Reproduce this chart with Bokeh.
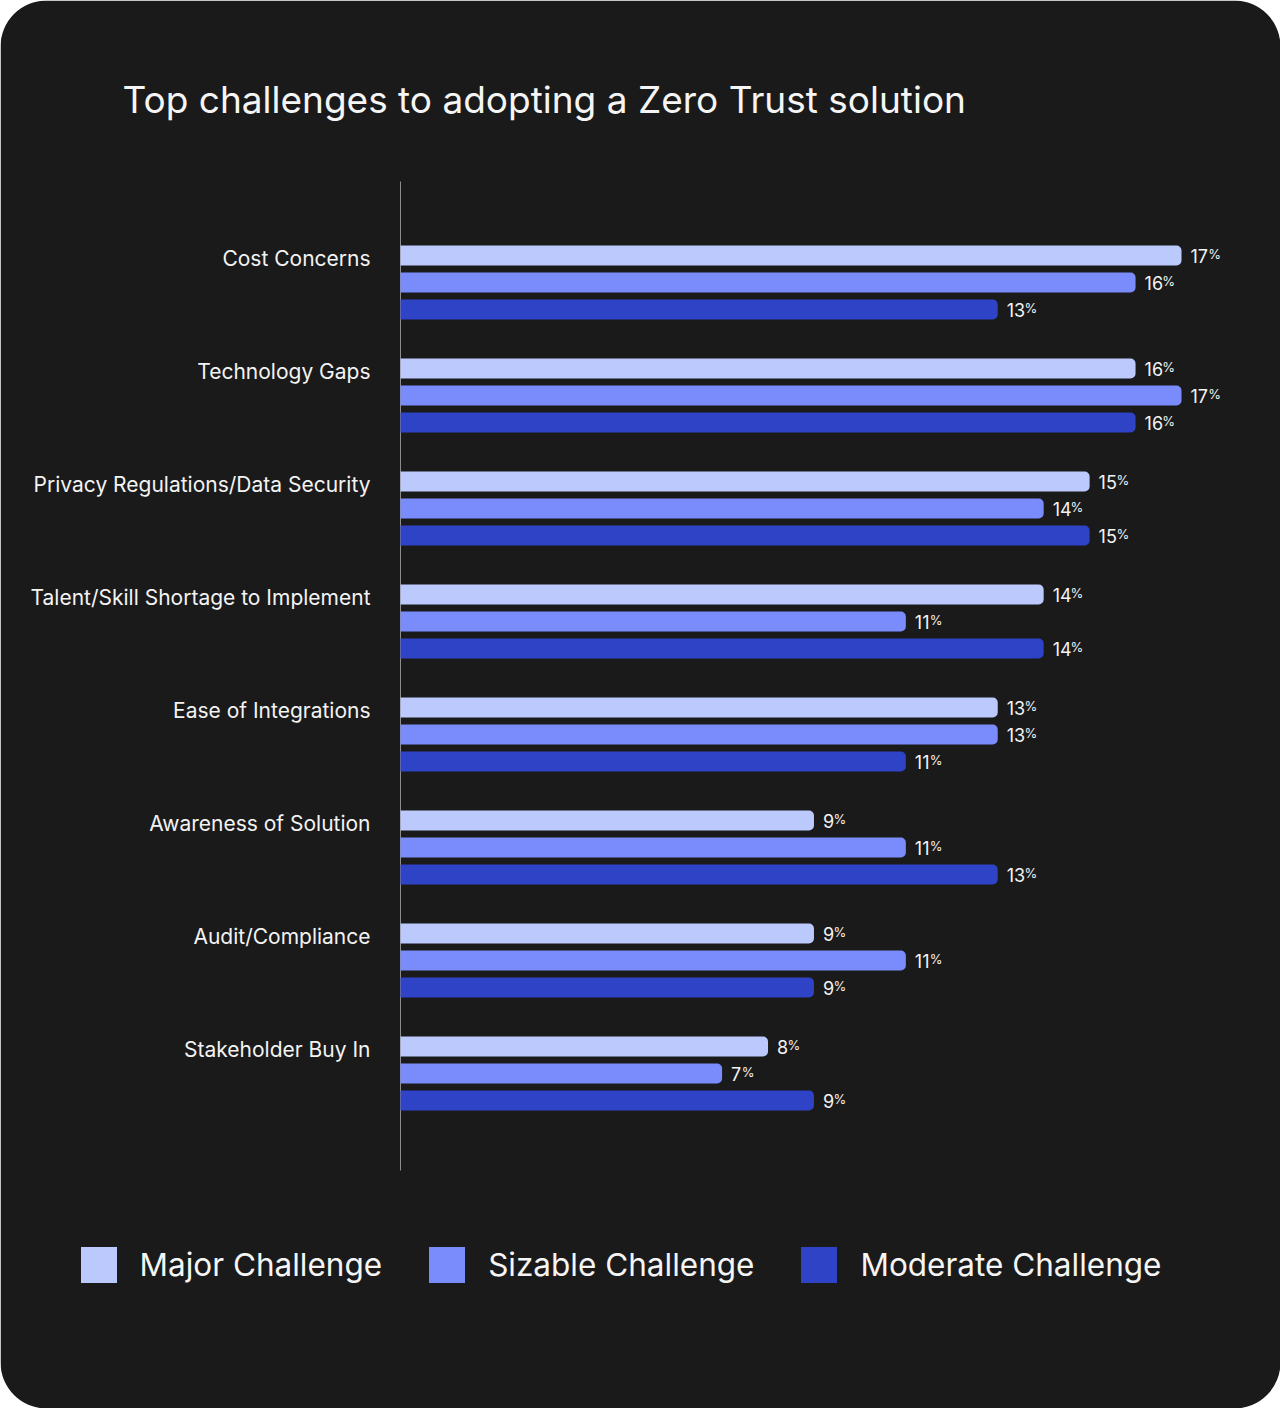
from bokeh.plotting import figure
from bokeh.models import ColumnDataSource, Range1d, Label, Legend, LegendItem
from bokeh.embed import file_html
from bokeh.resources import INLINE
from bokeh.core.properties import value

# ---- data ----
categories = ["Cost Concerns", "Technology Gaps", "Privacy Regulations/Data Security",
              "Talent/Skill Shortage to Implement", "Ease of Integrations",
              "Awareness of Solution", "Audit/Compliance", "Stakeholder Buy In"]
series_names = ["Major Challenge", "Sizable Challenge", "Moderate Challenge"]
major = [17, 16, 15, 14, 13, 9, 9, 8]
sizable = [16, 17, 14, 11, 13, 11, 11, 7]
moderate = [13, 16, 15, 14, 11, 13, 9, 9]
title_text = "Top challenges to adopting a Zero Trust solution"

# ---- style / layout ----
colors = ["#bbc9fd", "#7a8cfb", "#2e43c5"]
BG = "#1a1a1a"
TXT = "#f3f3f3"
FONT = "Inter"
W, H = 1280, 1408
X0_PX = 400          # pixel of value 0
XS = 781 / 17.0      # px per percent
Y_PX = 255           # pixel (from top) of first category's first bar
UNIT = 113.0         # px per category
offsets_px = [0, -27, -54]
bar_h_px = 20

n = len(categories)
pos = [n - 1 - i for i in range(n)]

x_start = -X0_PX / XS
x_end = (W - X0_PX) / XS
y_end = (n - 1) + Y_PX / UNIT
y_start = (n - 1) - (H - Y_PX) / UNIT

p = figure(width=W, height=H, output_backend="svg", toolbar_location=None,
           x_range=Range1d(x_start, x_end), y_range=Range1d(y_start, y_end),
           min_border=0, min_border_left=0, min_border_right=0,
           min_border_top=0, min_border_bottom=0,
           background_fill_color="#ffffff", border_fill_color="#ffffff")
p.outline_line_color = None
p.xgrid.visible = False
p.ygrid.visible = False
p.xaxis.visible = False
p.yaxis.visible = False

# dark card with rounded corners
p.quad(left=x_start, right=x_end, bottom=y_start, top=y_end,
       fill_color=BG, line_color=None, border_radius=46)

# axis line
axis_top = (n - 1) + (Y_PX - 181) / UNIT
axis_bot = (n - 1) - (1170 - Y_PX) / UNIT
p.segment(x0=[0], y0=[axis_bot], x1=[0], y1=[axis_top], line_color="#8c8c8c", line_width=1)

# category labels
cat_src = ColumnDataSource(dict(y=pos, label=categories, x=[0] * n))
p.text(x="x", y="y", text="label", source=cat_src, x_offset=-30, y_offset=3,
       text_font=value(FONT), text_font_size="21px", text_color=TXT,
       text_align="right", text_baseline="alphabetic")

def digit_width(s, size):
    w = 0.0
    for ch in s:
        w += (0.40 if ch == "1" else 0.56) * size
    return w

renderers = []
for s, vals in enumerate([major, sizable, moderate]):
    ys = [pp + offsets_px[s] / UNIT for pp in pos]
    nums = [str(v) for v in vals]
    pct_off = [9 + digit_width(t, 18) + 0.5 for t in nums]
    src = ColumnDataSource(dict(y=ys, right=vals, num=nums, pct=["%"] * n, pct_off=pct_off))
    r = p.hbar(y="y", left=0, right="right", height=bar_h_px / UNIT, source=src,
               fill_color=colors[s], line_color=None, border_radius=(0, 5, 5, 0))
    renderers.append(r)
    p.text(x="right", y="y", text="num", source=src, x_offset=9, y_offset=0.5,
           text_font=value(FONT), text_font_size="18px", text_color=TXT,
           text_baseline="alphabetic", text_align="left")
    p.text(x="right", y="y", text="pct", source=src, x_offset="pct_off", y_offset=-1.5,
           text_font=value(FONT), text_font_size="13px", text_color=TXT,
           text_baseline="alphabetic", text_align="left")

title = Label(x=122, y=H - 99, x_units="screen", y_units="screen",
              text=title_text, text_font=FONT, text_font_size="37px",
              text_color="#f5f5f5", text_baseline="alphabetic")
p.add_layout(title)

legend = Legend(items=[LegendItem(label=nm, renderers=[r]) for nm, r in zip(series_names, renderers)],
                location=(75.5, H - 1286.5), orientation="horizontal",
                background_fill_alpha=0, border_line_alpha=0,
                label_text_color="#f5f5f5", label_text_font=FONT, label_text_font_size="31.5px",
                glyph_width=45, glyph_height=45, label_standoff=19, spacing=42,
                padding=0, margin=0, label_height=45)
p.add_layout(legend)

open("out.html", "w").write(file_html(p, INLINE))
